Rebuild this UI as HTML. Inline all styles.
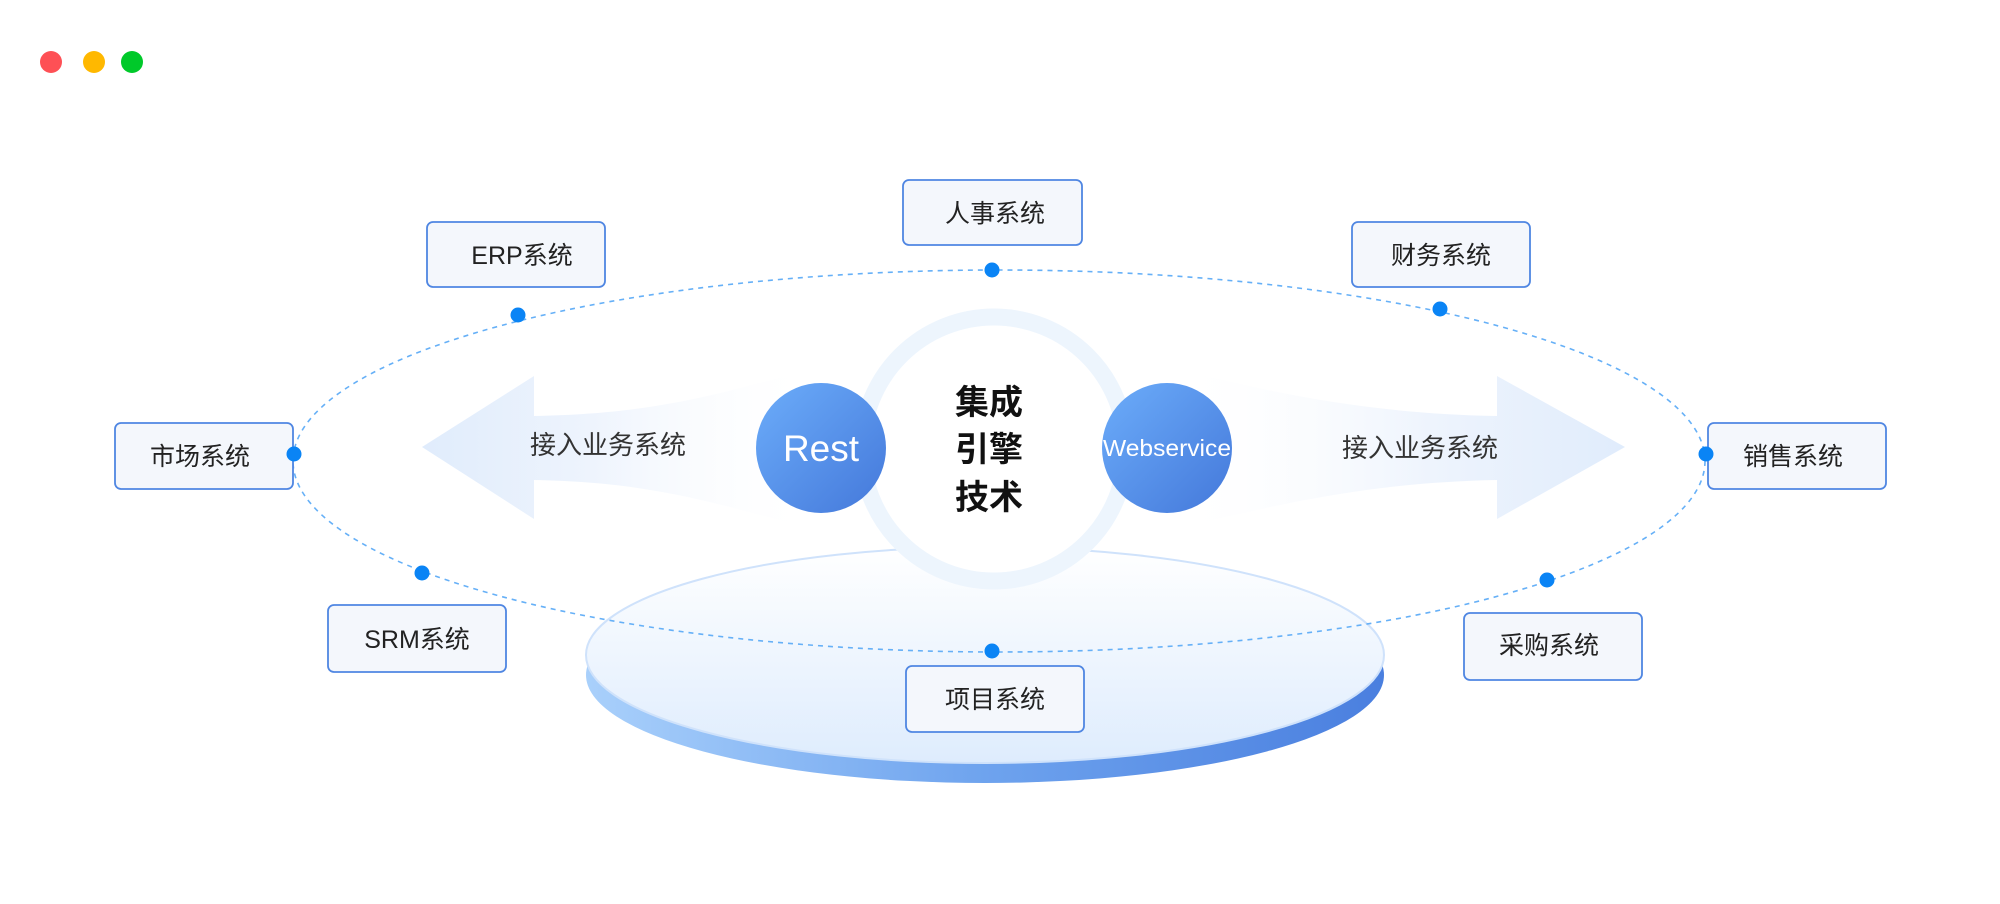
<!DOCTYPE html>
<html><head><meta charset="utf-8"><style>
html,body{margin:0;padding:0;background:#fff;}
svg{display:block;}
text{font-family:"Liberation Sans","Noto Sans CJK SC",sans-serif;}
</style></head><body>
<svg width="2000" height="904" viewBox="0 0 2000 904" xmlns="http://www.w3.org/2000/svg">
<defs>
<linearGradient id="side" x1="0" y1="0" x2="1" y2="0">
<stop offset="0" stop-color="#a9d0fb"/><stop offset="0.5" stop-color="#6ea3ee"/><stop offset="1" stop-color="#4a7fdf"/>
</linearGradient>
<linearGradient id="top" x1="0" y1="0" x2="0" y2="1">
<stop offset="0" stop-color="#ffffff"/><stop offset="1" stop-color="#deecfd"/>
</linearGradient>
<linearGradient id="ball" x1="0" y1="0" x2="1" y2="1">
<stop offset="0" stop-color="#6cadfa"/><stop offset="1" stop-color="#4478da"/>
</linearGradient>
<linearGradient id="arrL" x1="0" y1="0" x2="1" y2="0">
<stop offset="0" stop-color="#e0ecfc"/><stop offset="0.45" stop-color="#eef4fd"/><stop offset="1" stop-color="#ffffff" stop-opacity="0.2"/>
</linearGradient>
<linearGradient id="arrR" x1="1" y1="0" x2="0" y2="0">
<stop offset="0" stop-color="#e0ecfc"/><stop offset="0.45" stop-color="#eef4fd"/><stop offset="1" stop-color="#ffffff" stop-opacity="0.2"/>
</linearGradient>
</defs>

<circle cx="51" cy="62" r="11" fill="#fe5055"/>
<circle cx="94" cy="62" r="11" fill="#ffb800"/>
<circle cx="132" cy="62" r="11" fill="#00c92a"/>

<ellipse cx="985" cy="675" rx="399" ry="108" fill="url(#side)"/>
<ellipse cx="985" cy="655" rx="399" ry="108" fill="url(#top)" stroke="#cfe2fb" stroke-width="2"/>

<path d="M422 447 L534 376 L534 416 C640 414 700 400 800 372 L800 526 C700 498 640 482 534 480 L534 519 Z" fill="url(#arrL)"/>
<path d="M1625 447 L1497 376 L1497 416 C1390 414 1300 400 1190 372 L1190 526 C1300 498 1390 482 1497 480 L1497 519 Z" fill="url(#arrR)"/>
<text x="608" y="454" font-size="26" fill="#333" text-anchor="middle">接入业务系统</text>
<text x="1420" y="457" font-size="26" fill="#333" text-anchor="middle">接入业务系统</text>

<circle cx="994" cy="449" r="132" fill="#fff" stroke="#edf5fd" stroke-width="17"/>
<text x="989" y="414" font-size="34" font-weight="bold" fill="#111" text-anchor="middle">集成</text>
<text x="989" y="461" font-size="34" font-weight="bold" fill="#111" text-anchor="middle">引擎</text>
<text x="989" y="509" font-size="34" font-weight="bold" fill="#111" text-anchor="middle">技术</text>

<circle cx="821" cy="448" r="65" fill="url(#ball)"/>
<text x="821" y="461" font-size="37" fill="#fff" text-anchor="middle">Rest</text>
<circle cx="1167" cy="448" r="65" fill="url(#ball)"/>
<text x="1167" y="456" font-size="23" fill="#fff" text-anchor="middle" textLength="128" lengthAdjust="spacingAndGlyphs">Webservice</text>

<ellipse cx="999" cy="461" rx="706" ry="191" fill="none" stroke="#66b0f7" stroke-width="1.6" stroke-dasharray="5 5"/>

<g fill="#f4f7fc" stroke="#4f86e2" stroke-width="1.8">
<rect x="427" y="222" width="178" height="65" rx="6"/>
<rect x="903" y="180" width="179" height="65" rx="6"/>
<rect x="1352" y="222" width="178" height="65" rx="6"/>
<rect x="115" y="423" width="178" height="66" rx="6"/>
<rect x="1708" y="423" width="178" height="66" rx="6"/>
<rect x="328" y="605" width="178" height="67" rx="6"/>
<rect x="1464" y="613" width="178" height="67" rx="6"/>
<rect x="906" y="666" width="178" height="66" rx="6"/>
</g>
<g fill="#0a84f5">
<circle cx="518" cy="315" r="7.5"/><circle cx="992" cy="270" r="7.5"/><circle cx="1440" cy="309" r="7.5"/>
<circle cx="1706" cy="454" r="7.5"/><circle cx="1547" cy="580" r="7.5"/><circle cx="992" cy="651" r="7.5"/>
<circle cx="422" cy="573" r="7.5"/><circle cx="294" cy="454" r="7.5"/>
</g>
<g font-size="25" fill="#222" text-anchor="middle">
<text x="522" y="264">ERP系统</text>
<text x="995" y="222">人事系统</text>
<text x="1441" y="264">财务系统</text>
<text x="200" y="465">市场系统</text>
<text x="1793" y="465">销售系统</text>
<text x="417" y="648">SRM系统</text>
<text x="1549" y="654">采购系统</text>
<text x="995" y="708">项目系统</text>
</g>
</svg>
</body></html>
